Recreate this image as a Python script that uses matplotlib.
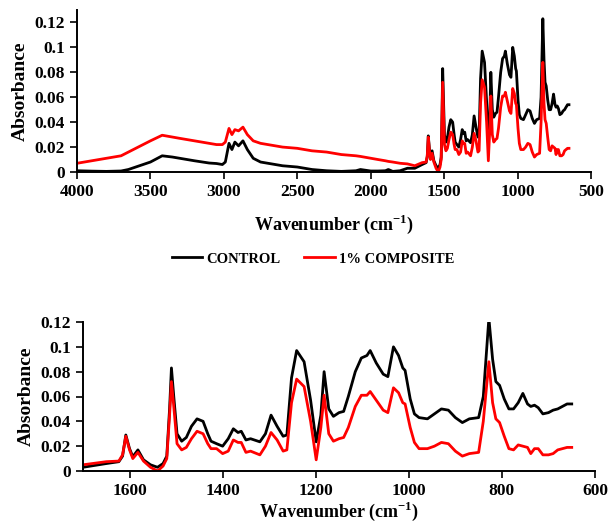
import matplotlib
matplotlib.use("Agg")
import matplotlib.pyplot as plt
from matplotlib.ticker import FuncFormatter

plt.rcParams['font.family'] = ['Liberation Serif', 'DejaVu Serif']
plt.rcParams['font.weight'] = 'bold'
plt.rcParams['mathtext.fontset'] = 'custom'
plt.rcParams['mathtext.rm'] = 'Liberation Serif:bold'
plt.rcParams['mathtext.bf'] = 'Liberation Serif:bold'

wavenumber = [4000, 3900, 3800, 3700, 3650, 3600, 3500, 3420, 3350, 3300, 3200, 3100, 3050, 3010,
              2990, 2965, 2945, 2925, 2900, 2870, 2840, 2800, 2750, 2700, 2600, 2500, 2400, 2300,
              2200, 2100, 2070, 2000, 1950, 1900, 1880, 1850, 1800, 1750, 1700, 1650, 1623, 1615,
              1608, 1600, 1593, 1582, 1570, 1555, 1540, 1528, 1520, 1514, 1510, 1505, 1498, 1488,
              1478, 1467, 1455, 1442, 1432, 1425, 1413, 1400, 1388, 1377, 1367, 1360, 1350, 1340,
              1320, 1308, 1296, 1283, 1270, 1262, 1252, 1241, 1225, 1211, 1199, 1189, 1182, 1172,
              1162, 1150, 1140, 1130, 1115, 1102, 1090, 1083, 1070, 1055, 1045, 1033, 1022, 1013,
              1008, 997, 988, 978, 960, 945, 930, 915, 900, 885, 870, 850, 840, 828, 820, 813, 805,
              795, 785, 775, 765, 755, 745, 738, 730, 722, 712, 700, 690, 680, 670, 660, 650]

control = [0.001, 0.0007, 0.0005, 0.0008, 0.002, 0.004, 0.008, 0.013, 0.012, 0.011, 0.009, 0.0072, 0.0068, 0.006,
           0.008, 0.023, 0.018, 0.024, 0.021, 0.025, 0.018, 0.011, 0.008, 0.007, 0.005, 0.004, 0.002, 0.001,
           0.0005, 0.001, 0.002, 0.0008, 0.0008, 0.001, 0.002, 0.0005, 0.001, 0.003, 0.003, 0.006, 0.0075, 0.012,
           0.029, 0.018, 0.0115, 0.017, 0.009, 0.005, 0.003, 0.006, 0.012, 0.050, 0.083, 0.060, 0.030, 0.024,
           0.027, 0.036, 0.042, 0.040, 0.030, 0.024, 0.022, 0.020, 0.026, 0.034, 0.031, 0.032, 0.025, 0.026,
           0.0235, 0.030, 0.045, 0.036, 0.028, 0.029, 0.075, 0.097, 0.088, 0.057, 0.0235, 0.045, 0.080, 0.050,
           0.044, 0.047, 0.048, 0.060, 0.080, 0.091, 0.093, 0.097, 0.087, 0.078, 0.076, 0.100, 0.093, 0.083,
           0.081, 0.058, 0.046, 0.043, 0.042, 0.046, 0.050, 0.049, 0.043, 0.039, 0.042, 0.043, 0.060, 0.123, 0.090, 0.072, 0.069,
           0.058, 0.050, 0.050, 0.055, 0.0625, 0.054, 0.052, 0.053, 0.051, 0.046, 0.047, 0.049, 0.050, 0.052, 0.054, 0.054]

composite = [0.007, 0.009, 0.011, 0.013, 0.016, 0.019, 0.025, 0.0295, 0.028, 0.027, 0.025, 0.023, 0.022, 0.022,
             0.024, 0.035, 0.030, 0.034, 0.033, 0.036, 0.030, 0.025, 0.023, 0.022, 0.020, 0.019, 0.017, 0.016,
             0.014, 0.013, 0.0125, 0.011, 0.010, 0.009, 0.0085, 0.008, 0.007, 0.0065, 0.005, 0.0075, 0.008, 0.013,
             0.028, 0.017, 0.010, 0.015, 0.008, 0.003, 0.000, 0.004, 0.010, 0.045, 0.072, 0.052, 0.022, 0.017,
             0.019, 0.026, 0.032, 0.030, 0.022, 0.018, 0.018, 0.014, 0.016, 0.025, 0.023, 0.023, 0.015, 0.016,
             0.013, 0.020, 0.031, 0.025, 0.016, 0.017, 0.055, 0.074, 0.068, 0.040, 0.009, 0.035, 0.061, 0.030,
             0.024, 0.026, 0.027, 0.035, 0.052, 0.061, 0.061, 0.064, 0.057, 0.049, 0.047, 0.067, 0.063, 0.055,
             0.054, 0.035, 0.023, 0.018, 0.018, 0.020, 0.023, 0.022, 0.016, 0.012, 0.014, 0.015, 0.040, 0.088, 0.055, 0.042, 0.039,
             0.028, 0.018, 0.017, 0.021, 0.020, 0.019, 0.014, 0.018, 0.018, 0.013, 0.013, 0.014, 0.017, 0.018, 0.019, 0.019]

series_names = ["CONTROL", "1% COMPOSITE"]
series_colors = ["#000000", "#ff0000"]

top_xticks = [4000, 3500, 3000, 2500, 2000, 1500, 1000, 500]
bottom_xticks = [1600, 1400, 1200, 1000, 800, 600]
yticks = [0, 0.02, 0.04, 0.06, 0.08, 0.1, 0.12]

fig = plt.figure(figsize=(6.10, 5.26), dpi=100)
ax1 = fig.add_axes([77/610, 1-172/526, 514/610, 162/526])
ax2 = fig.add_axes([83/610, 1-471/526, 512/610, 149/526])

fmt = FuncFormatter(lambda v, p: ('%g' % round(v, 4)))
xlabel_text = 'Wavenumber (cm$^{\\mathbf{-1}}$)'

for ax in (ax1, ax2):
    lines = []
    for vals, c, name in zip([control, composite], series_colors, series_names):
        ln, = ax.plot(wavenumber, vals, color=c, lw=2.0, label=name, solid_joinstyle='round')
        lines.append(ln)
    for s in ['top', 'right']:
        ax.spines[s].set_visible(False)
    for s in ['left', 'bottom']:
        ax.spines[s].set_linewidth(1.4)
    ax.tick_params(direction='out', length=5, width=1.2, labelsize=12.5)
    ax.set_yticks(yticks)
    ax.yaxis.set_major_formatter(fmt)
    ax.set_ylabel('Absorbance', fontsize=14, fontweight='bold', labelpad=4)
    for lab in ax.get_xticklabels() + ax.get_yticklabels():
        lab.set_fontweight('bold')

ax1.set_xlim(4000, 500)
ax1.set_ylim(0, 0.13)
ax1.set_xticks(top_xticks)
ax1.set_xlabel(xlabel_text, fontsize=13, fontweight='bold', labelpad=9)

ax2.set_xlim(1700, 600)
ax2.set_ylim(0, 0.12)
ax2.set_xticks(bottom_xticks)
ax2.set_xlabel(xlabel_text, fontsize=13, fontweight='bold', labelpad=1)

fig.legend(handles=lines, loc='center', bbox_to_anchor=(313/610, 1-259/526), ncol=2, frameon=False,
           prop={'family': 'Liberation Serif', 'weight': 'bold', 'size': 10.5},
           handlelength=2.1, handletextpad=0.3, columnspacing=1.6)

fig.savefig('out.png', dpi=100)
